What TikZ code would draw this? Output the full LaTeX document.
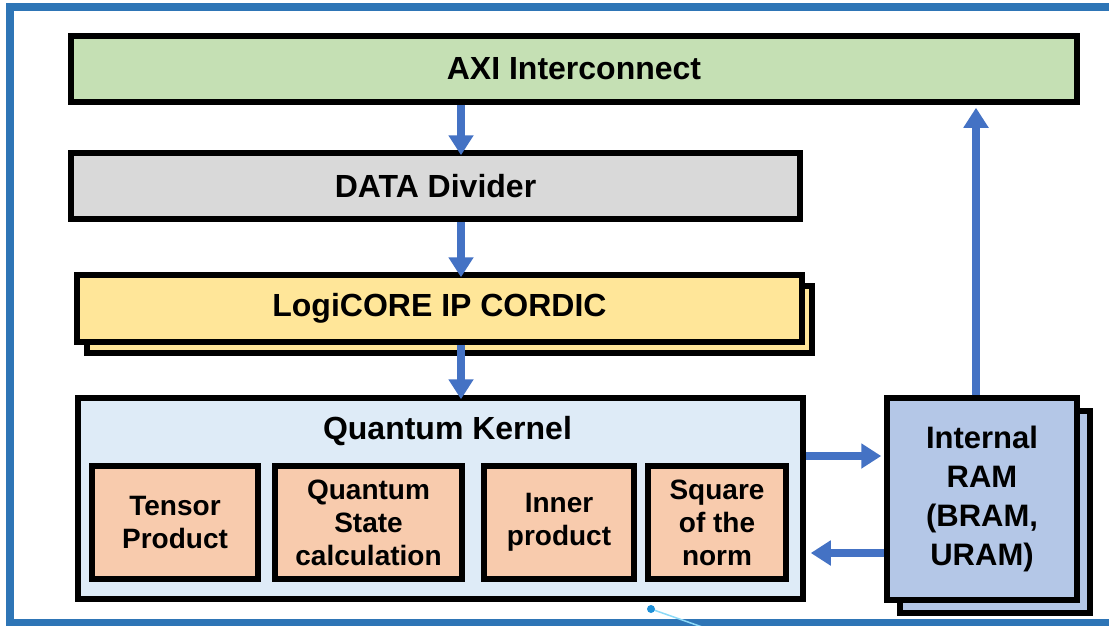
\documentclass[tikz,border=0pt]{standalone}
\usepackage{fontspec}
\setmainfont{Liberation Sans}
\usepackage{tikz}
\usetikzlibrary{arrows.meta, calc, positioning, shadows}
\definecolor{axigreen}{HTML}{C5E0B4}
\definecolor{divgray}{HTML}{D9D9D9}
\definecolor{cordicyellow}{HTML}{FFE699}
\definecolor{kernelblue}{HTML}{DEEBF7}
\definecolor{partsalmon}{HTML}{F8CBAD}
\definecolor{ramblue}{HTML}{B4C7E7}
\definecolor{flowblue}{HTML}{4472C4}
\definecolor{frameblue}{HTML}{2E75B6}
\definecolor{handleblue}{HTML}{1E90D8}
\newcommand{\bigtext}{\fontsize{32}{38}\selectfont\bfseries}
\newcommand{\parttext}{\fontsize{28}{33}\selectfont\bfseries}
\newcommand{\ramtext}{\fontsize{31}{39}\selectfont\bfseries}
\tikzstyle{block}=[draw=black, line width=5.5pt, inner sep=0pt, font=\bigtext]
\tikzstyle{part}=[block, fill=partsalmon, minimum height=113pt, align=center, font=\parttext]
\tikzstyle{flow}=[draw=flowblue, line width=8pt, -{Triangle[width=24pt, length=20pt]}]

\begin{document}
\begin{tikzpicture}[x=1pt, y=-1pt]
    \useasboundingbox (0,0) rectangle (1109,626);
    \draw[frameblue, line width=8pt] (10,7) rectangle (1114,623);

    % Bus and front end:
    \node[block, fill=axigreen, minimum width=1006pt, minimum height=66pt] (axi) at (574,69) {AXI Interconnect};
    \node[block, fill=divgray, minimum width=729pt, minimum height=66pt] (div) at (435.5,186) {DATA Divider};
    \node[block, fill=cordicyellow, minimum width=725pt, minimum height=67pt,
          copy shadow={shadow xshift=10pt, shadow yshift=-11pt}] (cordic) at (439.5,308.5) {LogiCORE IP CORDIC};

    % Kernel:
    \node[block, fill=kernelblue, minimum width=725pt, minimum height=201pt] (qk) at (440.5,498.5) {};
    \node[font=\bigtext, inner sep=0pt] (qkname) at ($(qk.north)+(7,36)$) {Quantum Kernel};
    \node[part, minimum width=166pt] (tensor) at (175,522.5) {Tensor\\Product};
    \node[part, minimum width=187pt] (state) at (368.5,522.5) {Quantum\\State\\calculation};
    \node[part, minimum width=150pt] (inner) at (559,522.5) {Inner\\product};
    \node[part, minimum width=138pt] (norm) at (717,522.5) {Square\\of the\\norm};

    % Memory:
    \node[block, fill=ramblue, minimum width=190pt, minimum height=202pt, align=center, font=\ramtext,
          copy shadow={shadow xshift=13pt, shadow yshift=-13pt}] (ram) at (982,499) {Internal\\RAM\\(BRAM,\\URAM)};

    % Data flow:
    \coordinate (kx) at (461,0);
    \coordinate (rx) at (976,0);
    \coordinate (wy) at (0,456);
    \coordinate (ry) at (0,553);
    \draw[flow, shorten >=-5pt] (axi.south -| kx) -- (div.north -| kx);
    \draw[flow, shorten >=-5pt] (div.south -| kx) -- (cordic.north -| kx);
    \draw[flow, shorten >=-4pt] (cordic.south -| kx) -- (qk.north -| kx);
    \draw[flow, shorten >=3pt] (qk.east |- wy) -- (ram.west |- wy);
    \draw[flow, shorten >=5pt] (ram.west |- ry) -- (qk.east |- ry);
    \draw[flow, shorten >=3pt] (ram.north -| rx) -- (axi.south -| rx);

    % Handle:
    \coordinate (hdl) at (651,609);
    \draw[cyan!45, line width=1.5pt] (hdl) -- (705,628);
    \fill[handleblue] (hdl) circle (4pt);
\end{tikzpicture}
\end{document}
